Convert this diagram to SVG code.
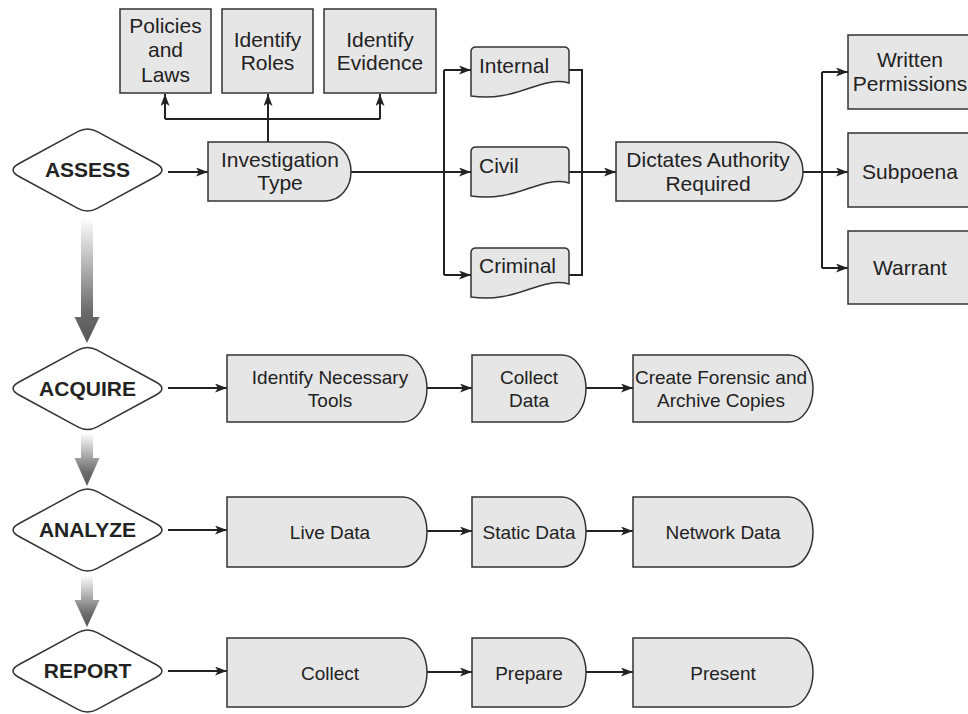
<svg xmlns="http://www.w3.org/2000/svg" xmlns:xlink="http://www.w3.org/1999/xlink" width="968" height="714" viewBox="0 0 968 714">
<style>
.box{fill:#e6e6e6;stroke:#333;stroke-width:1.5}
.dia{fill:#fff;stroke:#333;stroke-width:1.5}
.t{font-family:"Liberation Sans",Arial,Helvetica,sans-serif;font-size:21px;fill:#222;text-anchor:middle}
.s{font-family:"Liberation Sans",Arial,Helvetica,sans-serif;font-size:19px;fill:#222;text-anchor:middle}
.b{font-family:"Liberation Sans",Arial,Helvetica,sans-serif;font-size:21px;font-weight:bold;fill:#222;text-anchor:middle}
.c{fill:none;stroke:#222;stroke-width:2}
.a{marker-end:url(#ah)}
</style>
<defs>
<marker id="ah" markerUnits="userSpaceOnUse" markerWidth="13" markerHeight="10" refX="12" refY="4.5" orient="auto">
<path d="M0,0 L12,4.5 L0,9 L3,4.5 Z" fill="#222"/>
</marker>
<path id="dia" d="M-68.4,-6.5 L-9.7,-38.3 Q0,-43.5 9.7,-38.3 L68.4,-6.5 Q80.5,0 68.4,6.5 L9.7,38.3 Q0,43.5 -9.7,38.3 L-68.4,6.5 Q-80.5,0 -68.4,-6.5 Z"/>
<path id="doc" d="M0,5 Q0,0 5,0 H93 Q98,0 98,5 V36 C70,28 45,56 0,49 Z"/>
<linearGradient id="g" x1="0" y1="0" x2="0" y2="1">
<stop offset="0" stop-color="#ffffff"/>
<stop offset="0.75" stop-color="#6a6a6a"/>
<stop offset="1" stop-color="#575757"/>
</linearGradient>
</defs>

<g id="flow-arrows">
<path d="M81,218 H93 V317 H99.5 L87,343 L74.5,317 H81 Z" fill="url(#g)"/>
<path d="M81,433 H93 V458 H99.5 L87,486 L74.5,458 H81 Z" fill="url(#g)"/>
<path d="M81,575 H93 V600 H99.5 L87,627 L74.5,600 H81 Z" fill="url(#g)"/>
</g>

<g id="connectors">
<path class="c a" d="M168,172 H208"/>
<path class="c a" d="M268,142 V94"/>
<path class="c" d="M165,119 H380"/>
<path class="c a" d="M165,119 V94"/>
<path class="c a" d="M380,119 V94"/>
<path class="c a" d="M351,172 H471"/>
<path class="c" d="M444,70 V275"/>
<path class="c a" d="M444,70 H471"/>
<path class="c a" d="M444,275 H471"/>
<path class="c" d="M569,70 H582 V275 H569"/>
<path class="c a" d="M569,172 H616"/>
<path class="c a" d="M803,172 H848"/>
<path class="c" d="M822,72 V268"/>
<path class="c a" d="M822,72 H848"/>
<path class="c a" d="M822,268 H848"/>
<path class="c a" d="M168,388 H227"/>
<path class="c a" d="M427,388 H472"/>
<path class="c a" d="M586,388 H633"/>
<path class="c a" d="M168,530 H227"/>
<path class="c a" d="M427,531 H472"/>
<path class="c a" d="M586,531 H633"/>
<path class="c a" d="M168,671 H227"/>
<path class="c a" d="M427,672 H472"/>
<path class="c a" d="M586,672 H633"/>
</g>

<g id="assess"><use href="#dia" x="87.5" y="170" class="dia"/><text class="b" x="87.5" y="177">ASSESS</text></g>
<g id="acquire"><use href="#dia" x="87.5" y="388.5" class="dia"/><text class="b" x="87.5" y="396">ACQUIRE</text></g>
<g id="analyze"><use href="#dia" x="87.5" y="530" class="dia"/><text class="b" x="87.5" y="537">ANALYZE</text></g>
<g id="report"><use href="#dia" x="87.5" y="671" class="dia"/><text class="b" x="87.5" y="678">REPORT</text></g>

<g id="policies"><rect class="box" x="120" y="9" width="91" height="84"/><text class="t" x="165.5" y="33">Policies</text><text class="t" x="165.5" y="57">and</text><text class="t" x="165.5" y="82">Laws</text></g>
<g id="roles"><rect class="box" x="222" y="9" width="91" height="84"/><text class="t" x="267.5" y="47">Identify</text><text class="t" x="267.5" y="70">Roles</text></g>
<g id="evidence"><rect class="box" x="324" y="9" width="112" height="84"/><text class="t" x="380" y="47">Identify</text><text class="t" x="380" y="70">Evidence</text></g>

<g id="investigation"><path class="box" d="M208,142 H326 A25,29.5 0 0 1 326,201 H208 Z"/><text class="t" x="280" y="167">Investigation</text><text class="t" x="280" y="190">Type</text></g>

<g id="internal"><use href="#doc" x="471" y="47" class="box"/><text class="t" x="479" y="73" style="text-anchor:start">Internal</text></g>
<g id="civil"><use href="#doc" x="471" y="147" class="box"/><text class="t" x="479" y="173" style="text-anchor:start">Civil</text></g>
<g id="criminal"><use href="#doc" x="471" y="248" class="box"/><text class="t" x="479" y="273" style="text-anchor:start">Criminal</text></g>

<g id="dictates"><path class="box" d="M616,142 H775 A28,29.5 0 0 1 775,201 H616 Z"/><text class="t" x="708" y="167">Dictates Authority</text><text class="t" x="708" y="191">Required</text></g>

<g id="written"><rect class="box" x="848" y="35" width="130" height="74"/><text class="t" x="910" y="67">Written</text><text class="t" x="910" y="91">Permissions</text></g>
<g id="subpoena"><rect class="box" x="848" y="133" width="130" height="74"/><text class="t" x="910" y="179">Subpoena</text></g>
<g id="warrant"><rect class="box" x="848" y="231" width="130" height="73"/><text class="t" x="910" y="275">Warrant</text></g>

<g id="tools"><path class="box" d="M227,355 H403 A24,33.5 0 0 1 403,422 H227 Z"/><text class="s" x="330" y="384">Identify Necessary</text><text class="s" x="330" y="407">Tools</text></g>
<g id="collect-data"><path class="box" d="M472,355 H562 A24,33.5 0 0 1 562,422 H472 Z"/><text class="s" x="529" y="384">Collect</text><text class="s" x="529" y="407">Data</text></g>
<g id="forensic"><path class="box" d="M633,355 H789 A24,33.5 0 0 1 789,422 H633 Z"/><text class="s" x="721" y="384">Create Forensic and</text><text class="s" x="721" y="407">Archive Copies</text></g>

<g id="live"><path class="box" d="M227,497 H403 A24,35 0 0 1 403,567 H227 Z"/><text class="s" x="330" y="539">Live Data</text></g>
<g id="static"><path class="box" d="M472,497 H562 A24,35 0 0 1 562,567 H472 Z"/><text class="s" x="529" y="539">Static Data</text></g>
<g id="network"><path class="box" d="M633,497 H789 A24,35 0 0 1 789,567 H633 Z"/><text class="s" x="723" y="539">Network Data</text></g>

<g id="collect"><path class="box" d="M227,638 H403 A24,34.5 0 0 1 403,707 H227 Z"/><text class="s" x="330" y="680">Collect</text></g>
<g id="prepare"><path class="box" d="M472,638 H562 A24,34.5 0 0 1 562,707 H472 Z"/><text class="s" x="529" y="680">Prepare</text></g>
<g id="present"><path class="box" d="M633,638 H789 A24,34.5 0 0 1 789,707 H633 Z"/><text class="s" x="723" y="680">Present</text></g>
</svg>
